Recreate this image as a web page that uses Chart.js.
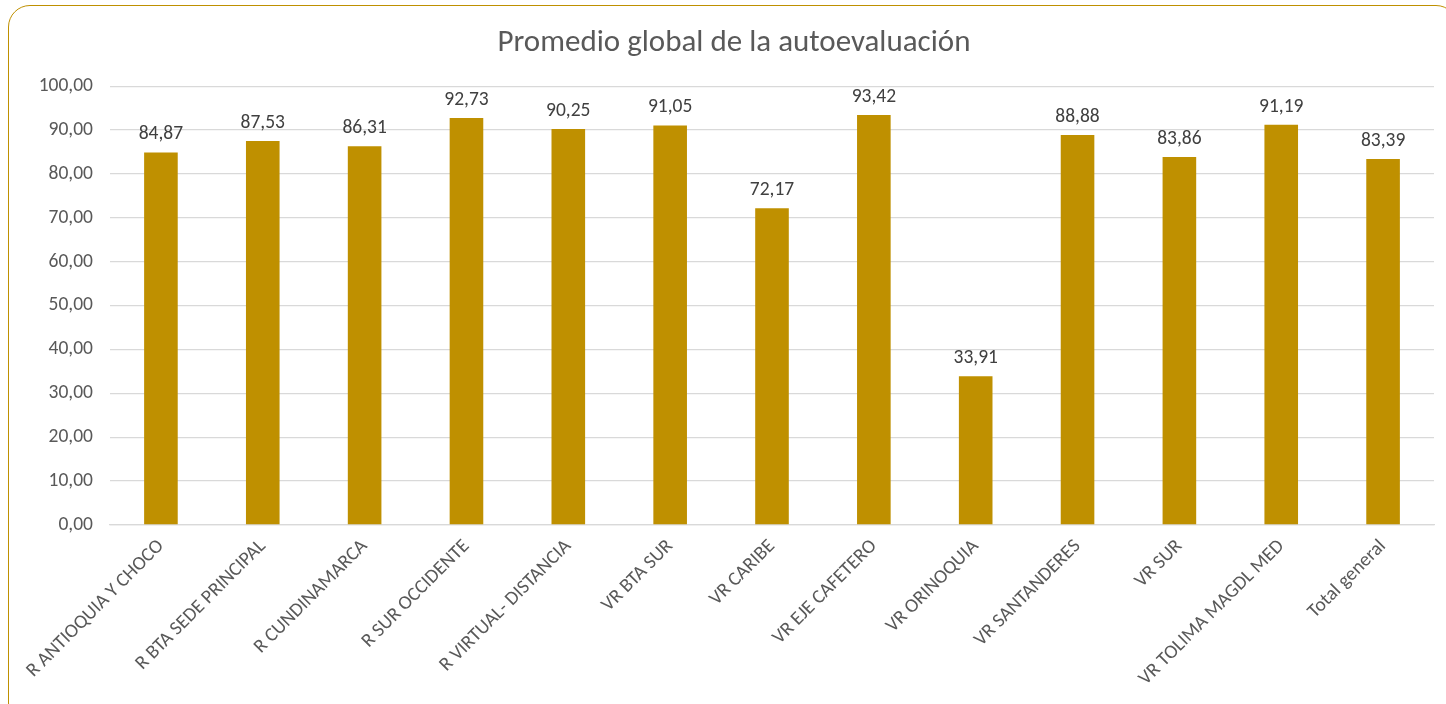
<!DOCTYPE html>
<html>
<head>
<meta charset="utf-8">
<script src="https://cdn.jsdelivr.net/npm/chart.js@4"></script>
<style>
  html, body { margin: 0; padding: 0; background: #fff; }
  #wrap { position: relative; width: 1446px; height: 704px; }
  #frame {
    position: absolute; left: 8px; top: 5px; width: 1450px; height: 720px;
    border: 1.5px solid #BF9000; border-radius: 22px; box-sizing: border-box;
    pointer-events: none;
  }
</style>
</head>
<body>
<div id="wrap">
  <canvas id="chart" width="1446" height="704"></canvas>
  <div id="frame"></div>
</div>
<script>
// chart data
const categories = [
  'R ANTIOQUIA Y CHOCO', 'R BTA SEDE PRINCIPAL', 'R CUNDINAMARCA', 'R SUR OCCIDENTE',
  'R VIRTUAL- DISTANCIA', 'VR BTA SUR', 'VR CARIBE', 'VR EJE CAFETERO', 'VR ORINOQUIA',
  'VR SANTANDERES', 'VR SUR', 'VR TOLIMA MAGDL MED', 'Total general'
];
const promedios = [84.87, 87.53, 86.31, 92.73, 90.25, 91.05, 72.17, 93.42, 33.91, 88.88, 83.86, 91.19, 83.39];
const yTicks = [0, 10, 20, 30, 40, 50, 60, 70, 80, 90, 100];

const FONT = 'Carlito, Calibri, Lato, sans-serif';
const fmt = v => v.toFixed(2).replace('.', ',');

// simple value labels above each bar
const barLabels = {
  id: 'barLabels',
  afterDatasetsDraw(chart) {
    const ctx = chart.ctx;
    const meta = chart.getDatasetMeta(0);
    ctx.save();
    ctx.font = '19.5px ' + FONT;
    ctx.fillStyle = '#404040';
    ctx.textAlign = 'center';
    ctx.textBaseline = 'middle';
    meta.data.forEach((bar, i) => {
      ctx.fillText(fmt(promedios[i]), bar.x, bar.y - 18);
    });
    ctx.restore();
  }
};

new Chart(document.getElementById('chart'), {
  type: 'bar',
  data: {
    labels: categories,
    datasets: [{
      data: promedios,
      backgroundColor: '#BF9000',
      borderWidth: 0,
      categoryPercentage: 1,
      barPercentage: 0.33
    }]
  },
  options: {
    responsive: false,
    animation: false,
    // left padding is wider so the title centres on the frame, y axis made narrower to match
    layout: { padding: { left: 34, right: 12, top: 0, bottom: 0 } },
    plugins: {
      legend: { display: false },
      tooltip: { enabled: false },
      title: {
        display: true,
        text: 'Promedio global de la autoevaluación',
        color: '#595959',
        font: { family: FONT, size: 31, weight: 'normal', lineHeight: 1.2 },
        padding: { top: 25, bottom: 24 }
      }
    },
    scales: {
      y: {
        min: 0,
        max: 100,
        afterBuildTicks: axis => { axis.ticks = yTicks.map(v => ({ value: v })); },
        afterFit: axis => { axis.width = 76; },
        border: { display: false },
        grid: { color: '#D9D9D9', lineWidth: 1.3, drawTicks: false },
        ticks: {
          padding: 17,
          color: '#595959',
          font: { family: FONT, size: 19.5 },
          callback: v => fmt(v)
        }
      },
      x: {
        afterFit: axis => { axis.height = 179; },
        border: { color: '#D9D9D9', width: 1.3 },
        grid: { display: false, drawTicks: false },
        ticks: {
          minRotation: 45,
          maxRotation: 45,
          autoSkip: false,
          padding: 10,
          color: '#595959',
          font: { family: FONT, size: 19.5 }
        }
      }
    }
  },
  plugins: [barLabels]
});
</script>
</body>
</html>
